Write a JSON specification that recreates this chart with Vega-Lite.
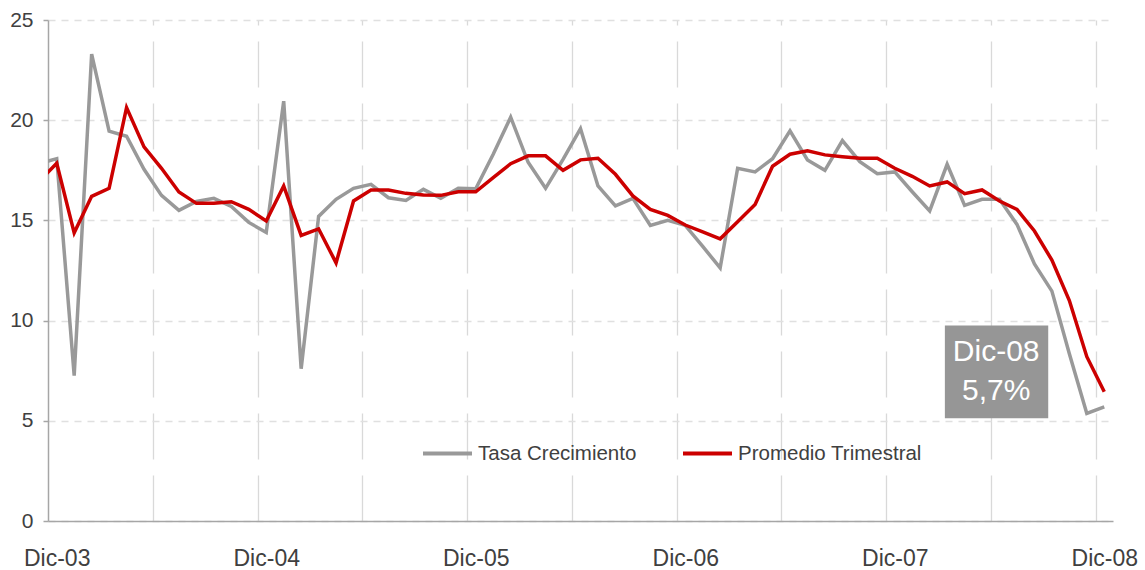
{
  "$schema": "https://vega.github.io/schema/vega-lite/v6.json",
  "width": 1065,
  "height": 501,
  "autosize": "none",
  "padding": {"left": 48, "top": 20, "right": 32, "bottom": 49},
  "background": "white",
  "config": {
    "view": {"stroke": null},
    "font": "Liberation Sans",
    "axis": {"labelFont": "Liberation Sans", "labelColor": "#404040", "domainColor": "#a6a6a6", "domainWidth": 1.5}
  },
  "datasets": {
    "series": [
      {"m": -1, "serie": "Tasa Crecimiento", "v": 17.84},
      {"m": 0, "serie": "Tasa Crecimiento", "v": 18.08},
      {"m": 1, "serie": "Tasa Crecimiento", "v": 7.25},
      {"m": 2, "serie": "Tasa Crecimiento", "v": 23.3},
      {"m": 3, "serie": "Tasa Crecimiento", "v": 19.45},
      {"m": 4, "serie": "Tasa Crecimiento", "v": 19.2},
      {"m": 5, "serie": "Tasa Crecimiento", "v": 17.55},
      {"m": 6, "serie": "Tasa Crecimiento", "v": 16.25},
      {"m": 7, "serie": "Tasa Crecimiento", "v": 15.5},
      {"m": 8, "serie": "Tasa Crecimiento", "v": 15.95},
      {"m": 9, "serie": "Tasa Crecimiento", "v": 16.1},
      {"m": 10, "serie": "Tasa Crecimiento", "v": 15.7},
      {"m": 11, "serie": "Tasa Crecimiento", "v": 14.9},
      {"m": 12, "serie": "Tasa Crecimiento", "v": 14.4},
      {"m": 13, "serie": "Tasa Crecimiento", "v": 20.95},
      {"m": 14, "serie": "Tasa Crecimiento", "v": 7.6},
      {"m": 15, "serie": "Tasa Crecimiento", "v": 15.2},
      {"m": 16, "serie": "Tasa Crecimiento", "v": 16.05},
      {"m": 17, "serie": "Tasa Crecimiento", "v": 16.6},
      {"m": 18, "serie": "Tasa Crecimiento", "v": 16.8},
      {"m": 19, "serie": "Tasa Crecimiento", "v": 16.13},
      {"m": 20, "serie": "Tasa Crecimiento", "v": 16.0},
      {"m": 21, "serie": "Tasa Crecimiento", "v": 16.55},
      {"m": 22, "serie": "Tasa Crecimiento", "v": 16.1},
      {"m": 23, "serie": "Tasa Crecimiento", "v": 16.6},
      {"m": 24, "serie": "Tasa Crecimiento", "v": 16.58},
      {"m": 25, "serie": "Tasa Crecimiento", "v": 18.3},
      {"m": 26, "serie": "Tasa Crecimiento", "v": 20.15},
      {"m": 27, "serie": "Tasa Crecimiento", "v": 17.9},
      {"m": 28, "serie": "Tasa Crecimiento", "v": 16.6},
      {"m": 29, "serie": "Tasa Crecimiento", "v": 18.05},
      {"m": 30, "serie": "Tasa Crecimiento", "v": 19.58},
      {"m": 31, "serie": "Tasa Crecimiento", "v": 16.72},
      {"m": 32, "serie": "Tasa Crecimiento", "v": 15.72},
      {"m": 33, "serie": "Tasa Crecimiento", "v": 16.1},
      {"m": 34, "serie": "Tasa Crecimiento", "v": 14.75},
      {"m": 35, "serie": "Tasa Crecimiento", "v": 15.0},
      {"m": 36, "serie": "Tasa Crecimiento", "v": 14.75},
      {"m": 37, "serie": "Tasa Crecimiento", "v": 13.7},
      {"m": 38, "serie": "Tasa Crecimiento", "v": 12.63},
      {"m": 39, "serie": "Tasa Crecimiento", "v": 17.6},
      {"m": 40, "serie": "Tasa Crecimiento", "v": 17.42},
      {"m": 41, "serie": "Tasa Crecimiento", "v": 18.08},
      {"m": 42, "serie": "Tasa Crecimiento", "v": 19.47},
      {"m": 43, "serie": "Tasa Crecimiento", "v": 18.02},
      {"m": 44, "serie": "Tasa Crecimiento", "v": 17.5},
      {"m": 45, "serie": "Tasa Crecimiento", "v": 18.98},
      {"m": 46, "serie": "Tasa Crecimiento", "v": 17.93},
      {"m": 47, "serie": "Tasa Crecimiento", "v": 17.33},
      {"m": 48, "serie": "Tasa Crecimiento", "v": 17.42},
      {"m": 49, "serie": "Tasa Crecimiento", "v": 16.43},
      {"m": 50, "serie": "Tasa Crecimiento", "v": 15.47},
      {"m": 51, "serie": "Tasa Crecimiento", "v": 17.8},
      {"m": 52, "serie": "Tasa Crecimiento", "v": 15.75},
      {"m": 53, "serie": "Tasa Crecimiento", "v": 16.05},
      {"m": 54, "serie": "Tasa Crecimiento", "v": 16.05},
      {"m": 55, "serie": "Tasa Crecimiento", "v": 14.8},
      {"m": 56, "serie": "Tasa Crecimiento", "v": 12.83},
      {"m": 57, "serie": "Tasa Crecimiento", "v": 11.47},
      {"m": 58, "serie": "Tasa Crecimiento", "v": 8.35},
      {"m": 59, "serie": "Tasa Crecimiento", "v": 5.37},
      {"m": 60, "serie": "Tasa Crecimiento", "v": 5.7},
      {"m": -1, "serie": "Promedio Trimestral", "v": 16.95},
      {"m": 0, "serie": "Promedio Trimestral", "v": 17.85},
      {"m": 1, "serie": "Promedio Trimestral", "v": 14.38},
      {"m": 2, "serie": "Promedio Trimestral", "v": 16.2},
      {"m": 3, "serie": "Promedio Trimestral", "v": 16.6},
      {"m": 4, "serie": "Promedio Trimestral", "v": 20.63},
      {"m": 5, "serie": "Promedio Trimestral", "v": 18.67},
      {"m": 6, "serie": "Promedio Trimestral", "v": 17.6},
      {"m": 7, "serie": "Promedio Trimestral", "v": 16.42},
      {"m": 8, "serie": "Promedio Trimestral", "v": 15.85},
      {"m": 9, "serie": "Promedio Trimestral", "v": 15.85},
      {"m": 10, "serie": "Promedio Trimestral", "v": 15.93},
      {"m": 11, "serie": "Promedio Trimestral", "v": 15.55},
      {"m": 12, "serie": "Promedio Trimestral", "v": 14.97},
      {"m": 13, "serie": "Promedio Trimestral", "v": 16.72},
      {"m": 14, "serie": "Promedio Trimestral", "v": 14.25},
      {"m": 15, "serie": "Promedio Trimestral", "v": 14.58},
      {"m": 16, "serie": "Promedio Trimestral", "v": 12.88},
      {"m": 17, "serie": "Promedio Trimestral", "v": 15.97},
      {"m": 18, "serie": "Promedio Trimestral", "v": 16.52},
      {"m": 19, "serie": "Promedio Trimestral", "v": 16.52},
      {"m": 20, "serie": "Promedio Trimestral", "v": 16.35},
      {"m": 21, "serie": "Promedio Trimestral", "v": 16.27},
      {"m": 22, "serie": "Promedio Trimestral", "v": 16.25},
      {"m": 23, "serie": "Promedio Trimestral", "v": 16.43},
      {"m": 24, "serie": "Promedio Trimestral", "v": 16.43},
      {"m": 25, "serie": "Promedio Trimestral", "v": 17.13},
      {"m": 26, "serie": "Promedio Trimestral", "v": 17.83},
      {"m": 27, "serie": "Promedio Trimestral", "v": 18.22},
      {"m": 28, "serie": "Promedio Trimestral", "v": 18.22},
      {"m": 29, "serie": "Promedio Trimestral", "v": 17.5},
      {"m": 30, "serie": "Promedio Trimestral", "v": 18.02},
      {"m": 31, "serie": "Promedio Trimestral", "v": 18.1},
      {"m": 32, "serie": "Promedio Trimestral", "v": 17.3},
      {"m": 33, "serie": "Promedio Trimestral", "v": 16.22},
      {"m": 34, "serie": "Promedio Trimestral", "v": 15.55},
      {"m": 35, "serie": "Promedio Trimestral", "v": 15.25},
      {"m": 36, "serie": "Promedio Trimestral", "v": 14.77},
      {"m": 37, "serie": "Promedio Trimestral", "v": 14.43},
      {"m": 38, "serie": "Promedio Trimestral", "v": 14.08},
      {"m": 39, "serie": "Promedio Trimestral", "v": 14.93},
      {"m": 40, "serie": "Promedio Trimestral", "v": 15.8},
      {"m": 41, "serie": "Promedio Trimestral", "v": 17.7},
      {"m": 42, "serie": "Promedio Trimestral", "v": 18.3},
      {"m": 43, "serie": "Promedio Trimestral", "v": 18.47},
      {"m": 44, "serie": "Promedio Trimestral", "v": 18.27},
      {"m": 45, "serie": "Promedio Trimestral", "v": 18.18},
      {"m": 46, "serie": "Promedio Trimestral", "v": 18.1},
      {"m": 47, "serie": "Promedio Trimestral", "v": 18.1},
      {"m": 48, "serie": "Promedio Trimestral", "v": 17.6},
      {"m": 49, "serie": "Promedio Trimestral", "v": 17.2},
      {"m": 50, "serie": "Promedio Trimestral", "v": 16.72},
      {"m": 51, "serie": "Promedio Trimestral", "v": 16.92},
      {"m": 52, "serie": "Promedio Trimestral", "v": 16.33},
      {"m": 53, "serie": "Promedio Trimestral", "v": 16.52},
      {"m": 54, "serie": "Promedio Trimestral", "v": 15.97},
      {"m": 55, "serie": "Promedio Trimestral", "v": 15.55},
      {"m": 56, "serie": "Promedio Trimestral", "v": 14.47},
      {"m": 57, "serie": "Promedio Trimestral", "v": 13.02},
      {"m": 58, "serie": "Promedio Trimestral", "v": 11.0},
      {"m": 59, "serie": "Promedio Trimestral", "v": 8.2},
      {"m": 60, "serie": "Promedio Trimestral", "v": 6.45}
    ],
    "nota": [{"t": ["Dic-08", "\u00a05,7%"]}]
  },
  "layer": [
    {
      "data": {"name": "series"},
      "mark": {"type": "line", "strokeWidth": 3.5, "clip": true, "strokeJoin": "miter"},
      "encoding": {
        "x": {
          "field": "m", "type": "quantitative",
          "scale": {"domain": [-0.5, 60.5], "nice": false, "zero": false},
          "axis": {
            "title": null,
            "values": [0, 5.5, 11.5, 12, 17.5, 23.5, 24, 29.5, 35.5, 36, 41.5, 47.5, 48, 53.5, 59.5, 60],
            "labelExpr": "datum.value % 12 == 0 ? 'Dic-0' + (3 + datum.value / 12) : ''",
            "labelFontSize": 23,
            "labelOverlap": false,
            "labelFlush": false,
            "labelBaseline": "alphabetic",
            "labelPadding": 44,
            "ticks": false,
            "grid": true,
            "gridColor": "#d9d9d9",
            "gridWidth": 1.3,
            "gridDash": [46, 16],
            "gridDashOffset": 41,
            "gridOpacity": {"condition": {"test": "datum.value % 6 == 0", "value": 0}, "value": 1}
          }
        },
        "y": {
          "field": "v", "type": "quantitative",
          "scale": {"domain": [0, 25], "nice": false},
          "axis": {
            "title": null,
            "values": [0, 5, 10, 15, 20, 25],
            "labelFontSize": 21,
            "labelPadding": 10,
            "tickSize": 5,
            "tickColor": "#a6a6a6",
            "tickWidth": 1.5,
            "grid": true,
            "gridColor": "#e0e0e0",
            "gridWidth": 1.3,
            "gridDash": [7, 6]
          }
        },
        "color": {
          "field": "serie", "type": "nominal",
          "scale": {"domain": ["Tasa Crecimiento", "Promedio Trimestral"], "range": ["#999999", "#cc0000"]},
          "legend": {
            "title": null,
            "orient": "none",
            "legendX": 373,
            "legendY": 407,
            "direction": "horizontal",
            "symbolType": "stroke",
            "symbolSize": 2401,
            "symbolStrokeWidth": 4,
            "labelFontSize": 20.5,
            "labelColor": "#404040",
            "labelFont": "Liberation Sans",
            "labelLimit": 400,
            "labelOffset": 4,
            "columnPadding": 38,
            "padding": 0
          }
        },
        "order": {"field": "m", "type": "quantitative"}
      }
    },
    {
      "data": {"name": "nota"},
      "mark": {"type": "rect", "color": "#969696"},
      "encoding": {
        "x": {"datum": 50.87, "type": "quantitative"},
        "x2": {"datum": 56.79},
        "y": {"datum": 9.75, "type": "quantitative"},
        "y2": {"datum": 5.13}
      }
    },
    {
      "data": {"name": "nota"},
      "mark": {"type": "text", "color": "white", "fontSize": 30, "font": "Liberation Sans", "align": "center", "baseline": "alphabetic", "lineHeight": 38.3},
      "encoding": {
        "x": {"datum": 53.81, "type": "quantitative"},
        "y": {"datum": 7.965, "type": "quantitative"},
        "text": {"field": "t"}
      }
    }
  ]
}
